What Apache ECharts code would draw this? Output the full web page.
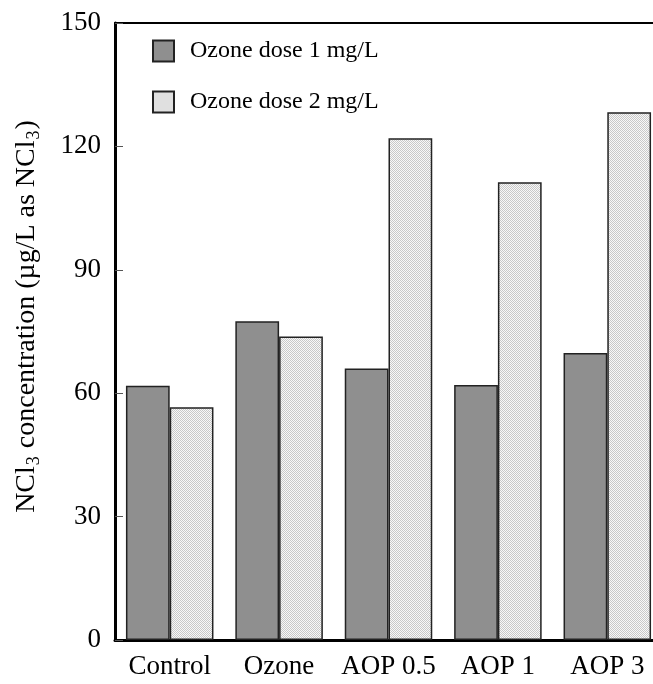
<!DOCTYPE html>
<html><head><meta charset="utf-8">
<script src="https://cdn.jsdelivr.net/npm/echarts@6/dist/echarts.min.js"></script>
<style>html,body{margin:0;padding:0;background:#fff}#c{width:653px;height:684px}</style>
</head><body><div id="c"></div>
<script>
const categories = ['Control', 'Ozone', 'AOP 0.5', 'AOP 1', 'AOP 3'];
const dose1 = [61.8, 77.5, 66.0, 62.0, 69.8];
const dose2 = [56.6, 73.8, 122.0, 111.3, 128.3];
const seriesNames = ['Ozone dose 1 mg/L', 'Ozone dose 2 mg/L'];
const yTicks = {min: 0, max: 150, interval: 30};

const pc = document.createElement('canvas');
pc.width = 2; pc.height = 2;
const g = pc.getContext('2d');
g.fillStyle = '#f8f8f8'; g.fillRect(0,0,2,2);
g.fillStyle = '#c8c8c8'; g.fillRect(0,0,1,1); g.fillRect(1,1,1,1);

const font = '"Liberation Serif", "Times New Roman", serif';
const chart = echarts.init(document.getElementById('c'), null, {renderer: 'canvas'});
chart.setOption({
  animation: false,
  backgroundColor: '#fff',
  grid: {left: 115, top: 23, width: 547, height: 617, outerBoundsMode: 'none', containLabel: false},
  legend: {
    orient: 'vertical', left: 147, top: 34, itemWidth: 21, itemHeight: 21, itemGap: 27,
    icon: 'rect', textStyle: {fontFamily: font, fontSize: 24, color: '#000', padding: [0,0,0,11]},
    data: seriesNames
  },
  xAxis: [{
    type: 'category', data: categories, boundaryGap: true,
    axisLine: {lineStyle: {color: '#000', width: 3}},
    axisTick: {inside: true, length: 7, lineStyle: {color: '#000', width: 1}},
    axisLabel: {fontFamily: font, fontSize: 27, color: '#000', margin: 13, interval: 0}
  }, {
    type: 'category', data: categories, position: 'top', boundaryGap: true,
    axisLine: {show: true, lineStyle: {color: '#000', width: 2}},
    axisTick: {inside: true, length: 7, lineStyle: {color: '#000', width: 1}},
    axisLabel: {show: false}
  }],
  yAxis: {
    type: 'value', min: yTicks.min, max: yTicks.max, interval: yTicks.interval,
    splitLine: {show: false},
    axisLine: {show: true, lineStyle: {color: '#000', width: 3}},
    axisTick: {show: true, inside: true, length: 8, lineStyle: {color: '#555', width: 1}},
    axisLabel: {fontFamily: font, fontSize: 27, color: '#000', margin: 14},
    name: '{a|NCl}{s|3}{a| concentration (µg/L as NCl}{s|3}{a|)}',
    nameLocation: 'middle', nameGap: 72, nameRotate: 90,
    nameTextStyle: {
      fontFamily: font, fontSize: 28, color: '#000', padding: [0, 0, 0, 30],
      rich: {
        a: {fontFamily: font, fontSize: 28, color: '#000', lineHeight: 32, verticalAlign: 'middle'},
        s: {fontFamily: font, fontSize: 18, color: '#000', lineHeight: 32, verticalAlign: 'bottom', padding: [34,1,0,1]}
      }
    }
  },
  series: [{
    name: seriesNames[0], type: 'bar', data: dose1, barGap: '0%', barCategoryGap: '20%',
    itemStyle: {color: '#8f8f8f', borderColor: '#222', borderWidth: 1.5}
  }, {
    name: seriesNames[1], type: 'bar', data: dose2, barGap: '0%', barCategoryGap: '20%',
    itemStyle: {color: {image: pc, repeat: 'repeat'}, borderColor: '#222', borderWidth: 1.5}
  }]
});
</script></body></html>
